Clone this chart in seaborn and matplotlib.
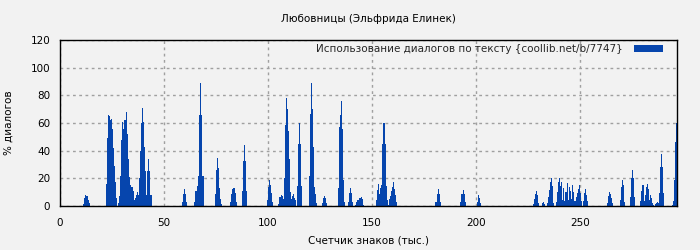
import numpy as np
import pandas as pd
import matplotlib
matplotlib.use("Agg")
import matplotlib.pyplot as plt
from matplotlib.patches import Patch
import seaborn as sns

title = "Любовницы (Эльфрида Елинек)"
xlabel = "Счетчик знаков (тыс.)"
ylabel = "% диалогов"
legend_label = "Использование диалогов по тексту {coollib.net/b/7747}"
bar_step = 0.5

# clusters: start position (thousand chars) and heights every 0.5k
cluster_starts = [11.0, 22.0, 58.5, 64.5, 74.5, 81.5, 87.5, 99.5, 105.0, 119.5,
                  126.0, 133.5, 138.5, 142.0, 152.0, 180.5, 192.5, 200.5, 227.5,
                  231.5, 234.0, 238.5, 251.5, 263.0, 269.0, 274.0, 279.0, 286.0, 294.0]
cluster_heights = [
    [1.5, 6, 8, 7.5, 7, 4.5, 2],
    [16, 49, 66, 65, 62, 63, 56, 42, 29, 17, 6, 0, 2, 7, 22, 48, 61, 56, 62, 68, 52,
     34, 21, 15, 13.5, 13.5, 11, 4, 5.5, 8, 10, 8, 20, 40, 60, 71, 61, 43, 25, 8, 25,
     34, 25, 8],
    [3, 8.5, 12, 8.5, 3],
    [3, 10.5, 10.5, 14.5, 22, 66, 89, 66, 22],
    [8.5, 26, 35, 27.5, 13, 5, 1.5],
    [3, 8.5, 12, 13, 13, 9.5, 3],
    [11, 32.5, 44, 32.5, 11],
    [4.5, 13.5, 19, 15, 9.5, 3],
    [1.5, 6.5, 8, 7, 5, 20, 58.5, 78, 70, 54, 34, 10, 5, 7, 8.5, 5.5, 4, 0, 14.5, 45,
     60, 45, 14.5],
    [21.5, 66.5, 89, 70, 43, 14, 8.5, 2],
    [2.5, 5.5, 7, 5.5, 2],
    [13, 57, 66, 76, 56, 19, 3],
    [3, 9.5, 13, 9.5, 3],
    [0.5, 3, 4.3, 5.5, 6, 6.5, 4.8, 0.5],
    [4.3, 11.6, 16, 8.5, 13, 15, 45, 60, 45, 14.5, 4.3, 0.5, 4.8, 7.2, 10.6, 13.5,
     17, 12.5, 8.2, 3],
    [3, 8.7, 12.3, 8.7, 3],
    [3, 8.7, 11.6, 8.7, 3],
    [3, 8, 6, 2],
    [1.4, 4.8, 8.7, 10.8, 8, 2.4],
    [2, 2.6, 1.4],
    [2.4, 6.7, 11.6, 17.4, 20, 14.5, 2.4],
    [3, 10, 17.4, 20, 14.5, 17.4, 4.3, 13, 3.4, 10, 16.4, 4.3, 14, 11, 4.8, 15, 10,
     3.9, 3.4, 6.3, 9.2, 12.5, 15.4, 9.6, 3.4],
    [3.4, 9.2, 12, 8.2, 3.4],
    [2, 7.2, 10, 8.7, 5.8, 2],
    [4.3, 14, 18.8, 15, 3],
    [6.3, 20, 26, 20, 6.3],
    [3.9, 11, 15, 3.9, 8, 13.5, 16, 12, 4.3, 8, 5.8, 2, 1],
    [1.2, 2.4, 3.1, 2.4, 9.2, 28.4, 37.6, 28.4, 9.2],
    [0.5, 3.9, 18.8, 46, 60],
]
x_ticks = [0, 50, 100, 150, 200, 250]
y_ticks = [0, 20, 40, 60, 80, 100, 120]

xs, hs = [], []
for s, hl in zip(cluster_starts, cluster_heights):
    for i, h in enumerate(hl):
        xs.append(s + i * bar_step + bar_step / 2)
        hs.append(h)
df = pd.DataFrame({"x": xs, "h": hs})

bg = "#f2f2f2"
color = "#0645ad"
fs = 7.5

sns.set_theme(style="whitegrid")
plt.rcParams["font.family"] = ["DejaVu Sans"]

fig = plt.figure(figsize=(7, 2.5), dpi=100, facecolor=bg)
ax = fig.add_axes([60 / 700, 1 - 206 / 250, 617 / 700, 166 / 250])
ax.set_facecolor(bg)

sns.histplot(data=df, x="x", weights="h", binwidth=bar_step, binrange=(0, 297.0),
             color=color, alpha=1, linewidth=0, element="bars", ax=ax)

ax.set_xlim(0, 296.6)
ax.set_ylim(0, 120)
ax.set_xticks(x_ticks)
ax.set_yticks(y_ticks)
ax.grid(True, color="#a0a0a0", linestyle=(0, (2, 2.5)), linewidth=1)
ax.set_axisbelow(True)
for sp in ax.spines.values():
    sp.set_visible(True)
    sp.set_color("black")
    sp.set_linewidth(1)
ax.tick_params(axis="both", labelsize=fs, colors="black", direction="out",
               length=4, width=1, pad=3)
ax.tick_params(axis="x", pad=5)
ax.set_xlabel(xlabel, fontsize=fs, color="black", labelpad=5)
ax.set_ylabel(ylabel, fontsize=fs, color="black", labelpad=12)
ax.set_title(title, fontsize=fs, color="black", pad=13)

handle = Patch(facecolor=color, edgecolor="none")
leg = ax.legend([handle], [legend_label], loc="upper right", frameon=False,
                markerfirst=False, fontsize=fs, handlelength=2.8, handleheight=0.75,
                borderaxespad=0.3, handletextpad=1.0, borderpad=0.3,
                bbox_to_anchor=(1 - 8 / 617, 1 + 2 / 166))

fig.savefig("out.png", dpi=100, facecolor=bg)
